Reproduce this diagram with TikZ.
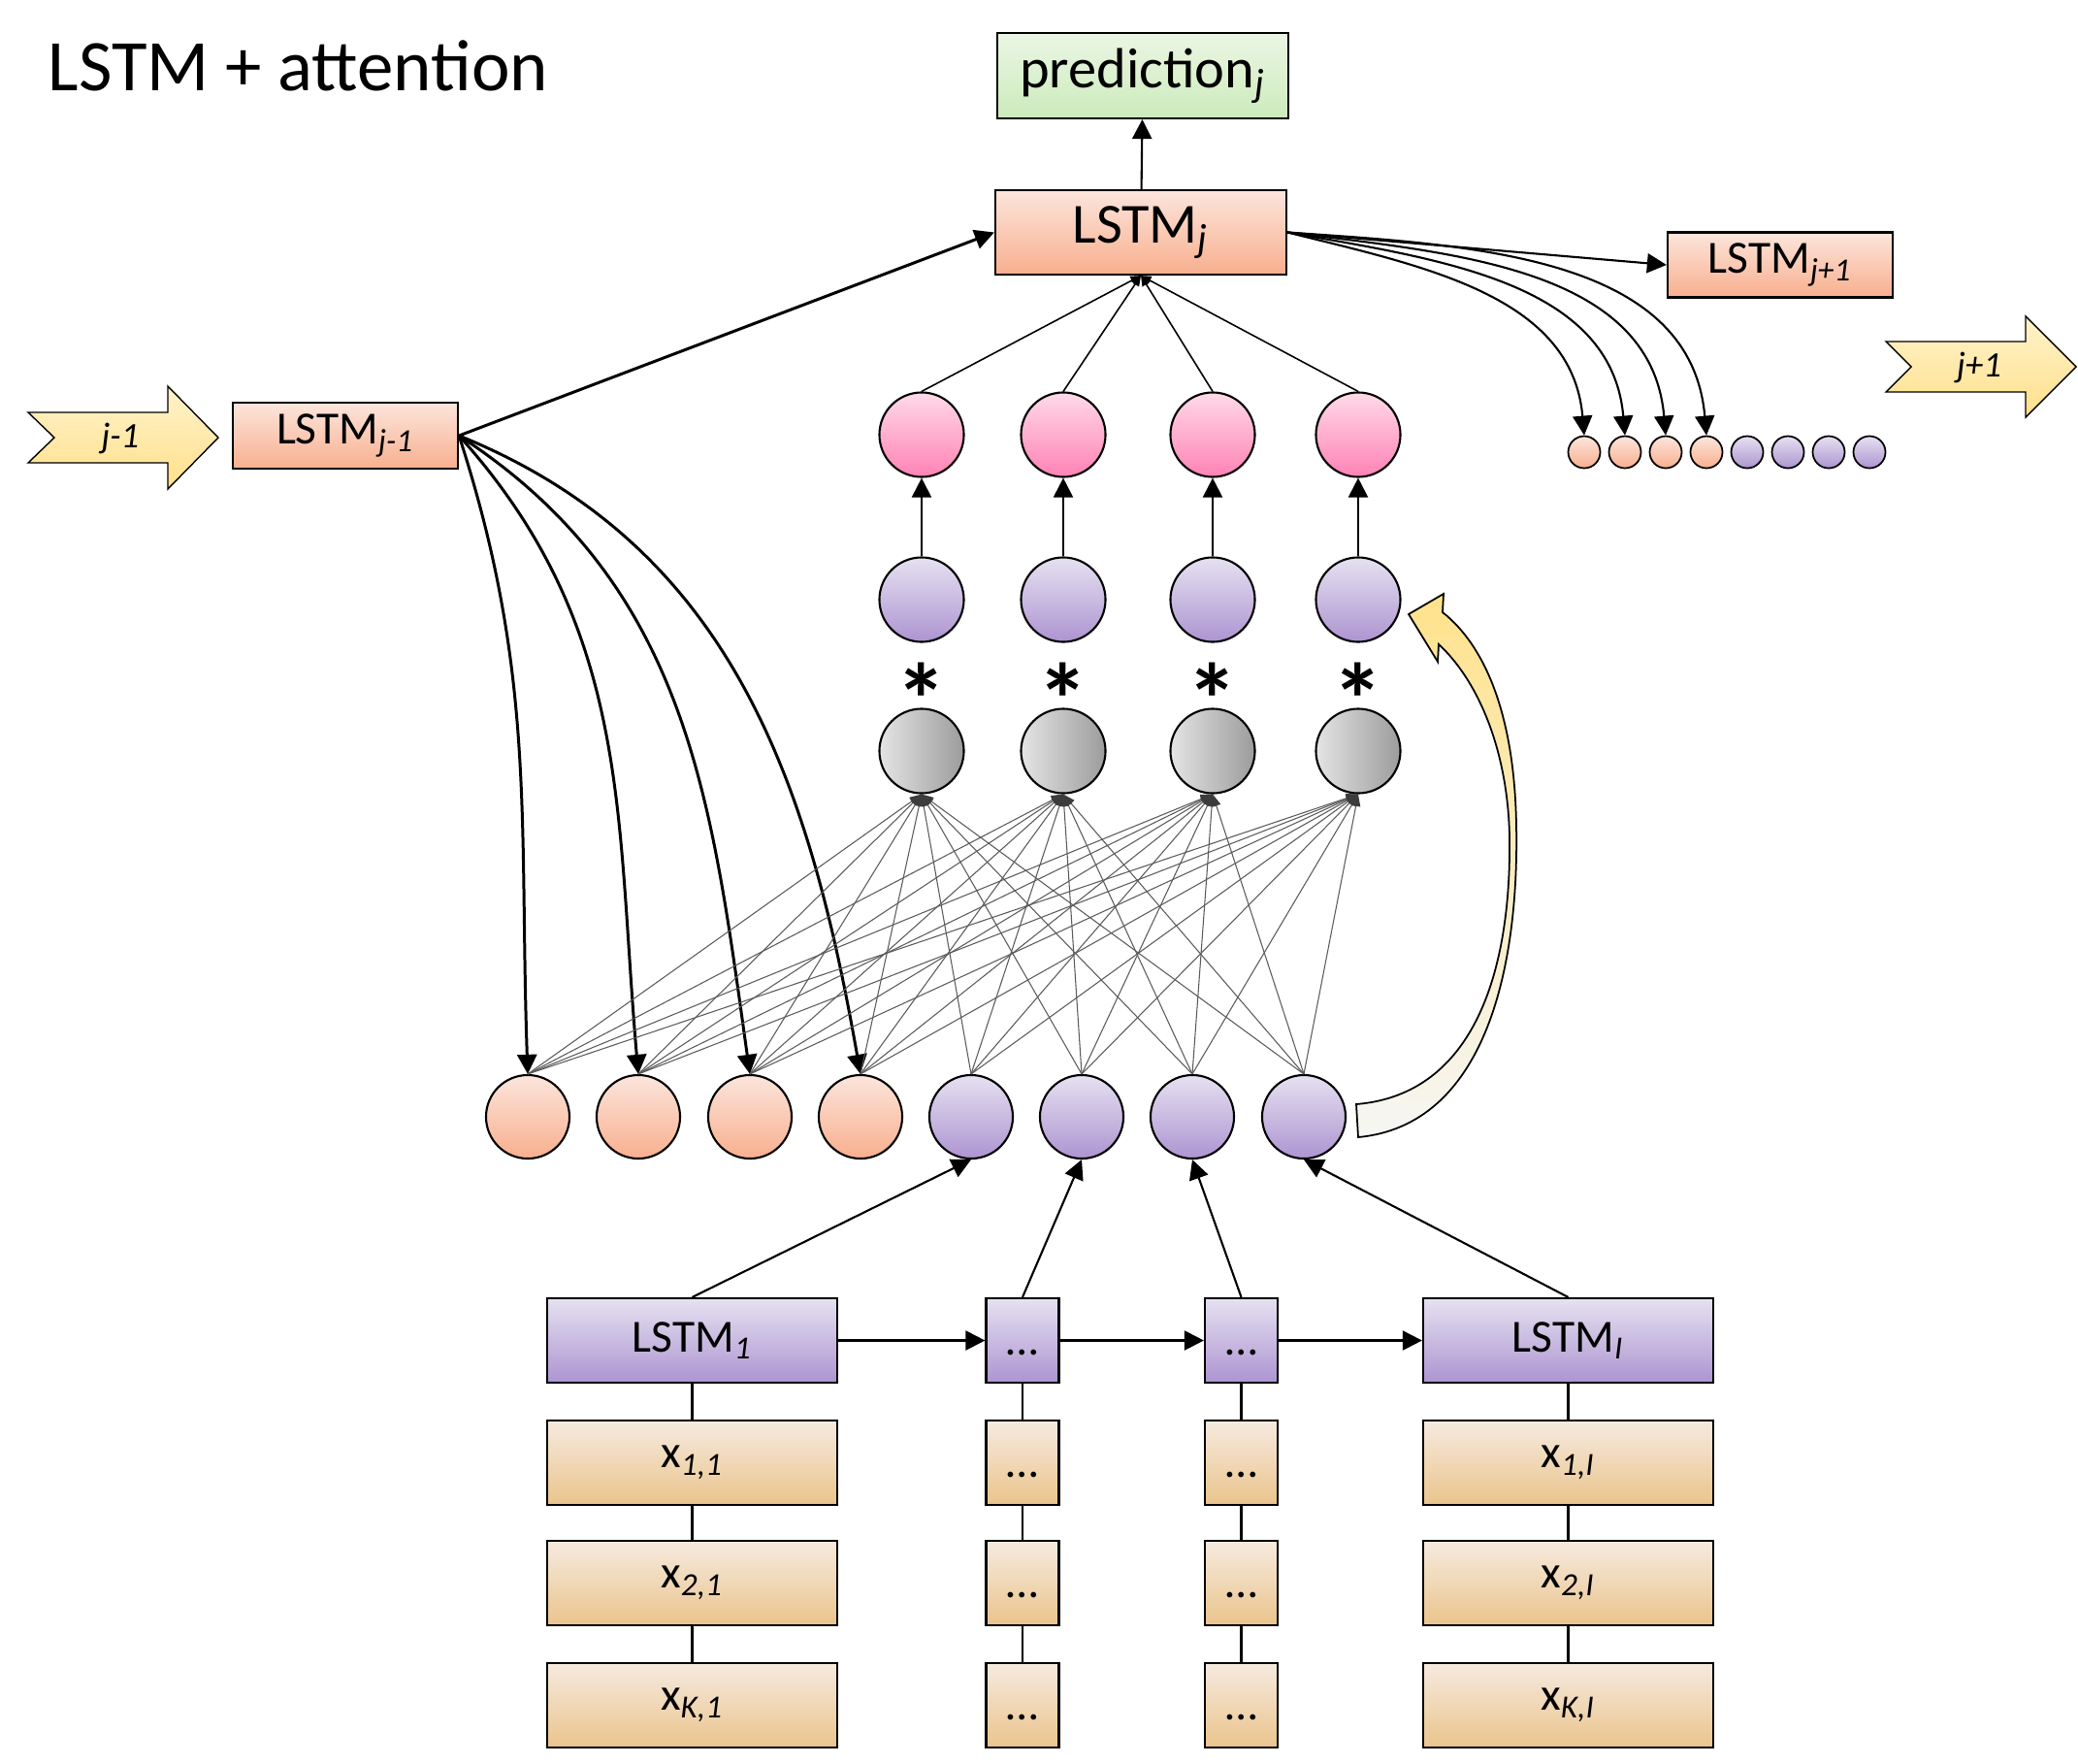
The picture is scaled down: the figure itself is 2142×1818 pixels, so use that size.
\documentclass[tikz,border=0pt]{standalone}
\usepackage{fontspec}
\setmainfont{Carlito}
\usetikzlibrary{arrows.meta}
\definecolor{predT}{HTML}{EBF6E4}
\definecolor{predB}{HTML}{CBEBBB}
\definecolor{salT}{HTML}{FCE5DC}
\definecolor{salB}{HTML}{F8AF8E}
\definecolor{purT}{HTML}{E6E1F1}
\definecolor{purB}{HTML}{AD94D1}
\definecolor{tanT}{HTML}{F6EADF}
\definecolor{tanB}{HTML}{EAC48C}
\definecolor{pinkT}{HTML}{FFD9E8}
\definecolor{pinkB}{HTML}{FF83B5}
\definecolor{grayL}{HTML}{E4E4E4}
\definecolor{grayR}{HTML}{9C9C9C}
\definecolor{yelT}{HTML}{FFF3CC}
\definecolor{yelB}{HTML}{FFE08A}
\definecolor{bigB}{HTML}{F6F6F3}
\definecolor{bigT}{HTML}{FFE28C}
\definecolor{web}{HTML}{5A5A5A}
\definecolor{webtip}{HTML}{3C3C3C}
\newcommand{\ellip}{\vphantom{L}…}
\begin{document}
\begin{tikzpicture}[x=0.01cm,y=-0.01cm,
  box/.style={draw=black,line width=0.6pt,inner sep=0pt,minimum height=0.87cm},
  salbox/.style={box,top color=salT,bottom color=salB},
  purbox/.style={box,top color=purT,bottom color=purB},
  tanbox/.style={box,top color=tanT,bottom color=tanB},
  widebox/.style={minimum width=2.99cm},
  narrowbox/.style={minimum width=0.75cm},
  ball/.style={circle,draw=black,line width=0.6pt,inner sep=0pt,minimum size=0.87cm},
  salball/.style={ball,top color=salT,bottom color=salB},
  purball/.style={ball,top color=purT,bottom color=purB},
  pinkball/.style={ball,top color=pinkT,bottom color=pinkB},
  grayball/.style={ball,left color=grayL,right color=grayR},
  dotball/.style={circle,draw=black,line width=0.5pt,inner sep=0pt,minimum size=0.33cm},
  arr/.style={line width=0.6pt,-{Triangle[length=5.7pt,width=5.7pt]}},
  thickarr/.style={line width=0.85pt,-{Triangle[length=5.7pt,width=5.7pt]}},
  smallarr/.style={line width=0.45pt,-{Triangle[length=3pt,width=2.6pt]}},
  webarr/.style={draw=web,line width=0.3pt,-{Triangle[length=3.5pt,width=2.6pt,color=webtip]}},
  linkline/.style={line width=0.6pt},
  bigtxt/.style={font=\fontsize{16.6}{20}\selectfont},
  midtxt/.style={font=\fontsize{13.5}{16}\selectfont},
  yarrow/.style={draw=black,line width=0.4pt,top color=yelT,bottom color=yelB},
  steptxt/.style={font=\fontsize{10.5}{12}\selectfont\itshape},
]
\useasboundingbox (0,0) rectangle (2142,1818);

% title
\node[anchor=base west,inner sep=0pt,font=\fontsize{21.3}{25}\selectfont] (title) at (49,93) {LSTM + attention};

% top boxes
\node[box,top color=predT,bottom color=predB,minimum width=3cm,minimum height=0.88cm,bigtxt] (pred) at (1178,78) {prediction\textsubscript{\textit{j}}};
\node[salbox,minimum width=3cm,bigtxt] (lstmj) at (1176,239.5) {LSTM\textsubscript{\textit{j}}};
\node[salbox,minimum width=2.32cm,minimum height=0.67cm,midtxt] (lstmjp) at (1835,273) {LSTM\textsubscript{\textit{j+1}}};
\node[salbox,minimum width=2.32cm,minimum height=0.68cm,midtxt] (lstmjm) at (356,449) {LSTM\textsubscript{\textit{j-1}}};

% yellow step arrows
\draw[yarrow] (29,425) -- (173,425) -- (173,398) -- (225,451) -- (173,504) -- (173,477) -- (29,477) -- (56,451) -- cycle;
\node[steptxt] (jm) at (124,452) {j-1};
\draw[yarrow] (1944,352) -- (2088,352) -- (2088,326) -- (2140,378) -- (2088,430) -- (2088,404) -- (1944,404) -- (1970,378) -- cycle;
\node[steptxt] (jp) at (2040,379) {j+1};

% attention column circles
\foreach \x [count=\i] in {950,1096,1250,1400} {
  \node[pinkball] (p\i) at (\x,448) {};
  \node[purball] (q\i) at (\x,618) {};
  \node[grayball] (g\i) at (\x,774) {};
  \node[inner sep=0pt,font=\bfseries\fontsize{30}{32}\selectfont] (s\i) at (\x,721) {*};
}

% encoder state row
\foreach \x [count=\i] in {544,658,773,887} \node[salball,minimum size=0.86cm] (b\i) at (\x,1151) {};
\foreach \x [count=\i from 5] in {1001,1115,1229,1344} \node[purball,minimum size=0.86cm] (b\i) at (\x,1151) {};

% small row at top right
\foreach \x [count=\i] in {1633,1675,1717,1759} \node[dotball,top color=salT,bottom color=salB] (d\i) at (\x,466) {};
\foreach \x [count=\i from 5] in {1801,1843,1885,1927} \node[dotball,top color=purT,bottom color=purB] (d\i) at (\x,466) {};

% encoder LSTMs
\node[purbox,widebox,midtxt] (l1) at (713.5,1381.5) {LSTM\textsubscript{\textit{1}}};
\node[purbox,narrowbox,midtxt] (l2) at (1054,1381.5) {\ellip};
\node[purbox,narrowbox,midtxt] (l3) at (1279.5,1381.5) {\ellip};
\node[purbox,widebox,midtxt] (l4) at (1616.5,1381.5) {LSTM\textsubscript{\textit{I}}};

% inputs
\node[tanbox,widebox,midtxt] (x11) at (713.5,1507.5) {x\textsubscript{\textit{1,1}}};
\node[tanbox,widebox,midtxt] (x21) at (713.5,1631.5) {x\textsubscript{\textit{2,1}}};
\node[tanbox,widebox,midtxt] (x31) at (713.5,1757.5) {x\textsubscript{\textit{K,1}}};
\node[tanbox,narrowbox,midtxt] (x12) at (1054,1507.5) {\ellip};
\node[tanbox,narrowbox,midtxt] (x22) at (1054,1631.5) {\ellip};
\node[tanbox,narrowbox,midtxt] (x32) at (1054,1757.5) {\ellip};
\node[tanbox,narrowbox,midtxt] (x13) at (1279.5,1507.5) {\ellip};
\node[tanbox,narrowbox,midtxt] (x23) at (1279.5,1631.5) {\ellip};
\node[tanbox,narrowbox,midtxt] (x33) at (1279.5,1757.5) {\ellip};
\node[tanbox,widebox,midtxt] (x14) at (1616.5,1507.5) {x\textsubscript{\textit{1,I}}};
\node[tanbox,widebox,midtxt] (x24) at (1616.5,1631.5) {x\textsubscript{\textit{2,I}}};
\node[tanbox,widebox,midtxt] (x34) at (1616.5,1757.5) {x\textsubscript{\textit{K,I}}};

% big curved feedback arrow
\draw[draw=black,line width=0.5pt,top color=bigT,bottom color=bigB]
  (1400,1172) .. controls (1530,1160) and (1566,1000) .. (1563,850)
  .. controls (1561,735) and (1530,665) .. (1487,631)
  -- (1488,612) -- (1452,633) -- (1482,682) -- (1483,664)
  .. controls (1522,700) and (1554,770) .. (1556,862)
  .. controls (1558,1000) and (1520,1128) .. (1398,1138) -- cycle;

% connectors
\draw[arr] (lstmj) -- (pred);
\draw[thickarr] (lstmjm.east) -- (lstmj.west);
\draw[arr] (lstmj.east) -- (lstmjp.west);
\foreach \i/\o/\n in {1/-72/92,2/-48/95,3/-33/98,4/-22/100}
  \draw[thickarr] (lstmjm.east) to[out=\o,in=\n] (b\i.north);
\foreach \i/\o in {1/-14,2/-10,3/-7,4/-4}
  \draw[arr] (lstmj.east) to[out=\o,in=95] (d\i.north);
\foreach \i in {1,...,4} {
  \draw[smallarr] (p\i.north) -- (lstmj.south);
  \draw[arr] (q\i) -- (p\i);
  \foreach \k in {1,...,8} \draw[webarr] (b\k.north) -- (g\i.south);
}
\foreach \i/\k in {1/5,2/6,3/7,4/8} \draw[arr] (l\i.north) -- (b\k.south);
\draw[arr] (l1) -- (l2);
\draw[arr] (l2) -- (l3);
\draw[arr] (l3) -- (l4);
\foreach \c in {1,...,4} {
  \draw[linkline] (l\c) -- (x1\c);
  \draw[linkline] (x1\c) -- (x2\c);
  \draw[linkline] (x2\c) -- (x3\c);
}
\end{tikzpicture}
\end{document}
